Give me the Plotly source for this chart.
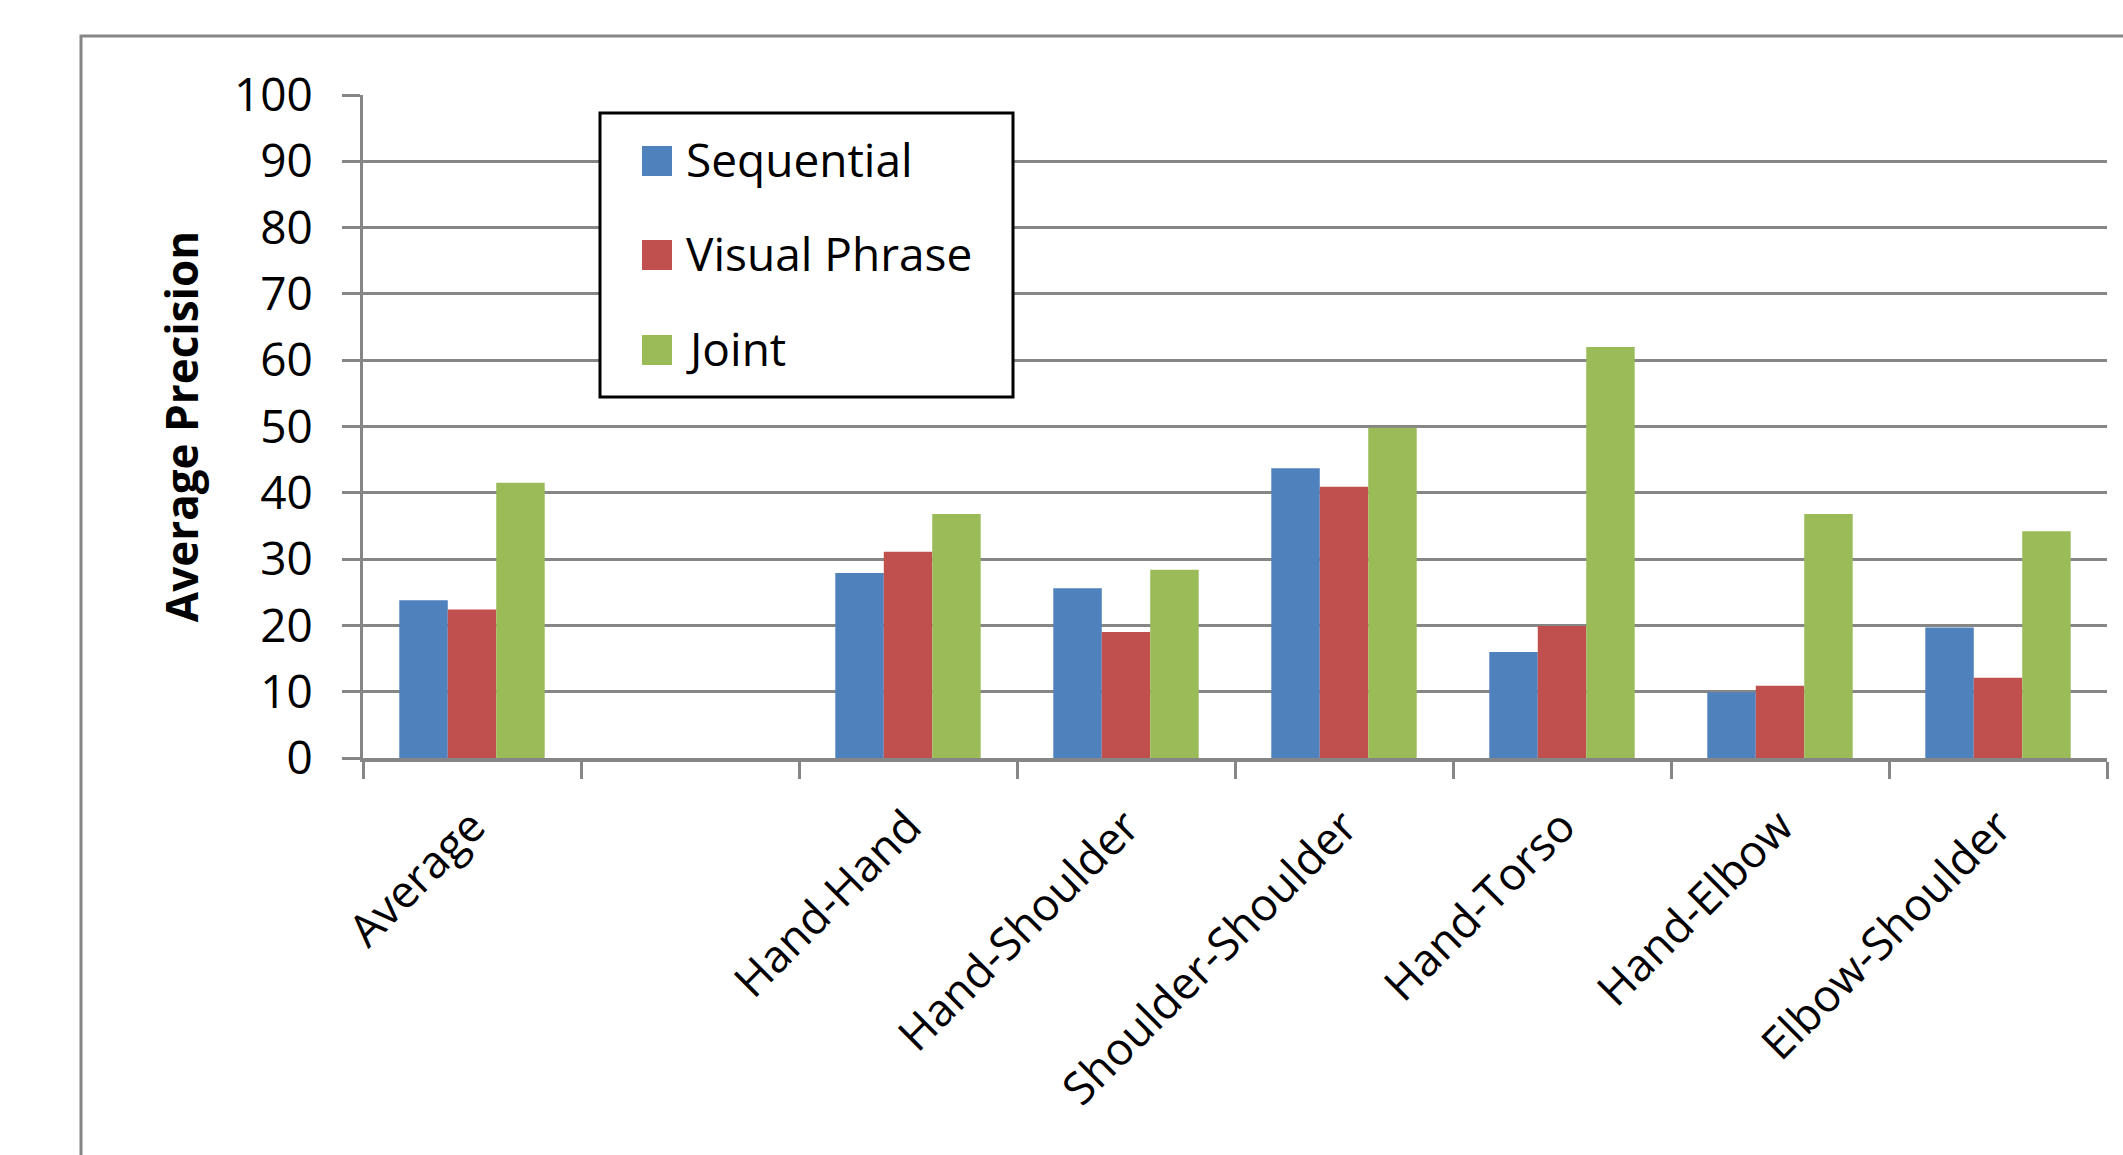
import plotly.graph_objects as go

# Data
categories = ["Average", " ", "Hand-Hand", "Hand-Shoulder", "Shoulder-Shoulder",
              "Hand-Torso", "Hand-Elbow", "Elbow-Shoulder"]
series_names = ["Sequential", "Visual Phrase", "Joint"]
sequential = [23.8, None, 27.9, 25.6, 43.7, 16.0, 9.9, 19.7]
visual_phrase = [22.4, None, 31.1, 19.0, 40.9, 19.9, 10.9, 12.1]
joint = [41.5, None, 36.8, 28.4, 49.8, 62.0, 36.8, 34.2]
y_ticks = [0, 10, 20, 30, 40, 50, 60, 70, 80, 90, 100]

colors = ["#4F81BD", "#C0504D", "#9BBB59"]
series_values = [sequential, visual_phrase, joint]

# Figure geometry (pixels)
W, H = 2123, 1155
ML, MR, MT, MB = 363, 16, 95, 397
PW, PH = W - ML - MR, H - MT - MB
GRID = "#868686"
FONT = "Open Sans"


def px_x(x):
    return (x - ML) / PW


def px_y(y):
    return (H - MB - y) / PH


fig = go.Figure()
for name, vals, col in zip(series_names, series_values, colors):
    fig.add_trace(go.Bar(x=categories, y=vals, name=name, marker_color=col,
                         marker_line_width=0, showlegend=False))

shapes = []
annotations = []

# Outer chart frame (continues past the right and bottom edges)
shapes.append(dict(type="rect", xref="paper", yref="paper",
                   x0=px_x(81), x1=px_x(2300), y0=px_y(1300), y1=px_y(36),
                   line=dict(color=GRID, width=3), layer="below"))

# Legend box
shapes.append(dict(type="rect", xref="paper", yref="paper",
                   x0=px_x(600), x1=px_x(1013), y0=px_y(397), y1=px_y(113),
                   line=dict(color="black", width=3), fillcolor="white",
                   layer="above"))
legend_y = [161, 255, 350]
for name, col, cy in zip(series_names, colors, legend_y):
    shapes.append(dict(type="rect", xref="paper", yref="paper",
                       x0=px_x(642), x1=px_x(672), y0=px_y(cy + 15), y1=px_y(cy - 15),
                       line=dict(width=0), fillcolor=col, layer="above"))
    annotations.append(dict(xref="paper", yref="paper", x=px_x(684), y=px_y(cy - 2),
                            text=name, showarrow=False, xanchor="left", yanchor="middle",
                            font=dict(family=FONT, size=46, color="black")))

fig.update_layout(
    width=W, height=H,
    margin=dict(l=ML, r=MR, t=MT, b=MB, pad=0),
    paper_bgcolor="white", plot_bgcolor="white",
    barmode="group", bargap=0.333, bargroupgap=0,
    font=dict(family=FONT, color="black"),
    shapes=shapes, annotations=annotations,
    showlegend=False,
)

fig.update_yaxes(
    range=[0, 100], tickvals=y_ticks, ticktext=[str(v) for v in y_ticks],
    showgrid=True, gridcolor=GRID, gridwidth=3,
    showline=True, linecolor=GRID, linewidth=3,
    ticks="outside", ticklen=18, tickwidth=3, tickcolor=GRID,
    ticklabelstandoff=20,
    tickfont=dict(family=FONT, size=46, color="black"),
    zeroline=False,
    title=dict(text="<b>Average Precision</b>", standoff=22,
               font=dict(family=FONT, size=44, color="black")),
)

fig.update_xaxes(
    type="category", categoryorder="array", categoryarray=categories,
    tickson="boundaries",
    showgrid=False,
    showline=True, linecolor=GRID, linewidth=4,
    ticks="outside", ticklen=17, tickwidth=3, tickcolor=GRID,
    tickangle=-45, ticklabelstandoff=20,
    tickfont=dict(family=FONT, size=45, color="black"),
    zeroline=False,
)

fig.write_html("out.html")
